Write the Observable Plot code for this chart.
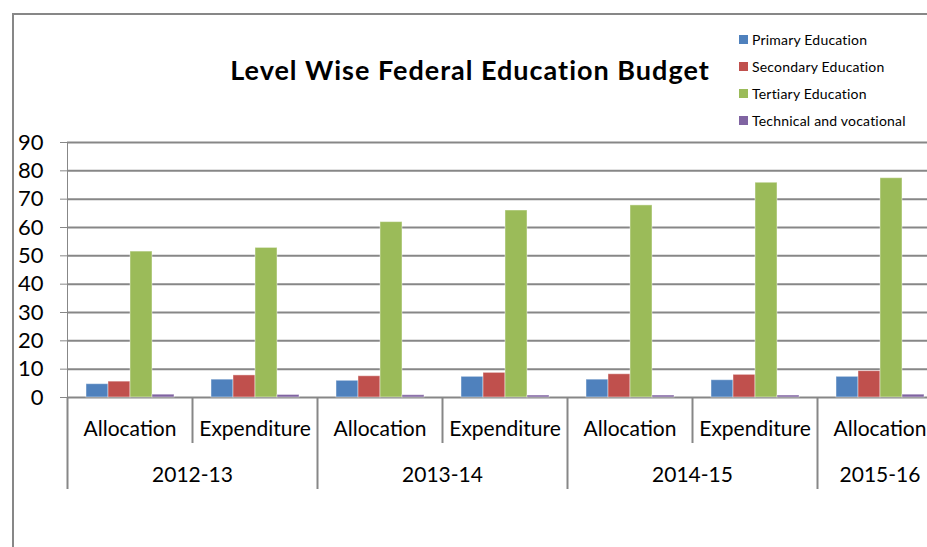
<!DOCTYPE html>
<html>
<head>
<meta charset="utf-8">
<script src="https://cdn.jsdelivr.net/npm/d3@7"></script>
<script src="https://cdn.jsdelivr.net/npm/@observablehq/plot@0.6"></script>
<style>
  html, body { margin: 0; padding: 0; background: #fff; overflow: hidden; }
  #wrap { position: relative; width: 927px; height: 547px; overflow: hidden; font-family: Lato, "Open Sans", sans-serif; }
  #frame { position: absolute; left: 12px; top: 13px; width: 2000px; height: 2000px; border-left: 2px solid #878787; border-top: 2px solid #878787; }
  #chart { position: absolute; left: 0; top: 0; }
  #chart svg text { fill: #000; }
  #title { position: absolute; left: 0; width: 940px; top: 53px; text-align: center; font-weight: bold; font-size: 27px; letter-spacing: 1px; color: #000; white-space: nowrap; }
  #legend { position: absolute; left: 739px; top: 30px; font-size: 14px; letter-spacing: 0.2px; color: #000; }
  .item { position: absolute; left: 0; height: 18px; display: flex; align-items: center; white-space: nowrap; }
  .sw { width: 9px; height: 9px; margin-right: 4px; }
</style>
</head>
<body>
<div id="wrap">
  <div id="frame"></div>
  <div id="chart"></div>
  <div id="title">Level Wise Federal Education Budget</div>
  <div id="legend"></div>
</div>
<script>
// ---- data ----
const years = ["2012-13", "2012-13", "2013-14", "2013-14", "2014-15", "2014-15", "2015-16"];
const types = ["Allocation", "Expenditure", "Allocation", "Expenditure", "Allocation", "Expenditure", "Allocation"];
const seriesNames = ["Primary Education", "Secondary Education", "Tertiary Education", "Technical and vocational"];
const primary   = [4.7, 6.3, 5.9, 7.3, 6.3, 6.1, 7.3];
const secondary = [5.6, 7.8, 7.5, 8.7, 8.2, 8.0, 9.3];
const tertiary  = [51.5, 52.8, 61.9, 66.0, 67.8, 75.8, 77.4];
const technical = [1.0, 0.9, 0.8, 0.7, 0.7, 0.7, 1.0];
const yTicks = [0, 10, 20, 30, 40, 50, 60, 70, 80, 90];
const colors = ["#4F81BD", "#C0504D", "#9BBB59", "#8064A2"];

// ---- table ----
const keys = years.map((_, i) => String(i));
const seriesValues = [primary, secondary, tertiary, technical];
const rows = [];
keys.forEach((k, i) => seriesNames.forEach((s, j) => rows.push({key: k, series: s, value: seriesValues[j][i]})));
const cats = keys.map((k, i) => ({key: k, year: years[i], type: types[i]}));
const yearPairs = cats.filter((c, i) => c.type === "Allocation" && years[i + 1] === c.year);
const yearSingles = cats.filter((c, i) => c.type === "Allocation" && years[i + 1] !== c.year);
const yearStarts = cats.filter((c, i) => i === 0 || years[i - 1] !== c.year);
const innerStarts = cats.filter((c, i) => i > 0 && years[i - 1] === c.year);

const W = 960, H = 547, mT = 142, mB = 150, mL = 67, mR = 18;
const plotH = H - mT - mB;
const facetW = (W - mL - mR) / keys.length;
const grey = "#878787";

const chart = Plot.plot({
  width: W, height: H,
  marginTop: mT, marginBottom: mB, marginLeft: mL, marginRight: mR,
  style: {fontFamily: "Lato, 'Open Sans', sans-serif", fontSize: "22px", color: grey, background: "transparent", maxWidth: "none", overflow: "visible"},
  fx: {domain: keys, padding: 0, axis: null},
  x: {domain: seriesNames, paddingInner: 0, paddingOuter: 0.78, axis: null},
  y: {domain: [0, 90], ticks: yTicks, tickSize: 7, tickPadding: 17, label: null, line: true},
  color: {domain: seriesNames, range: colors},
  marks: [
    Plot.ruleY(yTicks, {stroke: grey, strokeWidth: 2}),
    Plot.barY(rows, {fx: "key", x: "series", y: "value", fill: "series", stroke: "#ffffff", strokeOpacity: 0.45, strokeWidth: 1}),
    Plot.ruleX(yearStarts, {fx: "key", x: null, dx: -facetW / 2, insetTop: plotH, insetBottom: -92, stroke: grey, strokeWidth: 2}),
    Plot.ruleX(innerStarts, {fx: "key", x: null, dx: -facetW / 2, insetTop: plotH, insetBottom: -46, stroke: grey, strokeWidth: 2}),
    Plot.text(cats, {fx: "key", text: "type", frameAnchor: "bottom", dy: 38, fontSize: 21, fill: "#000"}),
    Plot.text(yearPairs, {fx: "key", text: "year", frameAnchor: "bottom-right", textAnchor: "middle", dy: 84, fontSize: 21, fill: "#000"}),
    Plot.text(yearSingles, {fx: "key", text: "year", frameAnchor: "bottom", dy: 84, fontSize: 21, fill: "#000"})
  ]
});
document.getElementById("chart").appendChild(chart);

// ---- legend ----
const legend = document.getElementById("legend");
seriesNames.forEach((s, i) => {
  const it = document.createElement("div");
  it.className = "item";
  it.style.top = (i * 27) + "px";
  const sw = document.createElement("span");
  sw.className = "sw";
  sw.style.background = colors[i];
  const tx = document.createElement("span");
  tx.textContent = s;
  it.appendChild(sw); it.appendChild(tx);
  legend.appendChild(it);
});
</script>
</body>
</html>
